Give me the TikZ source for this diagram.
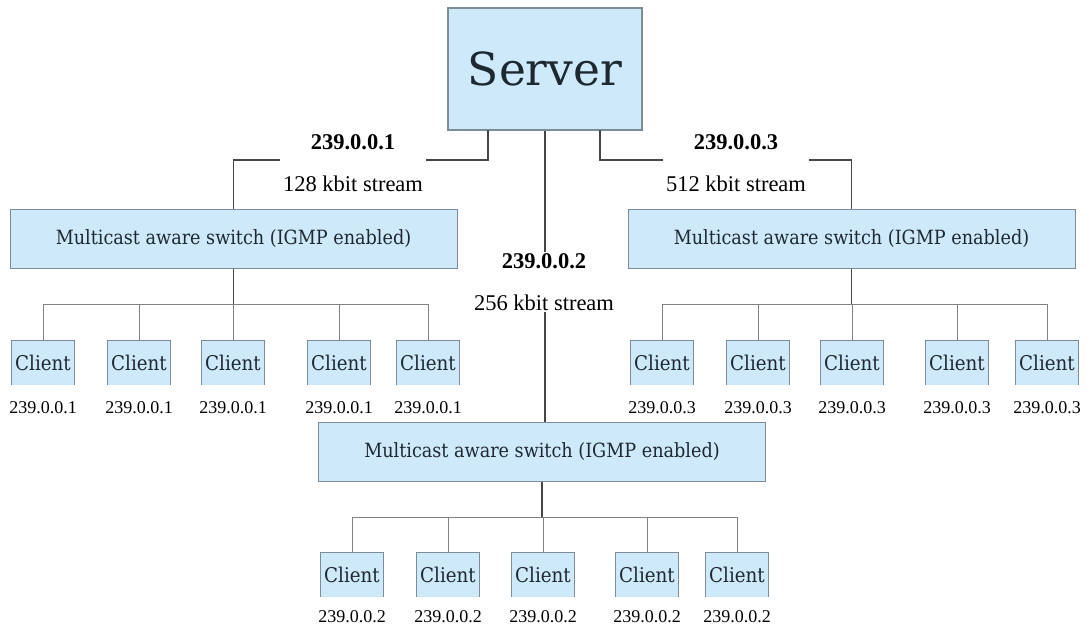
\documentclass[tikz,border=0pt]{standalone}
\usepackage{fontspec}
\setmainfont{Liberation Serif}
\newfontfamily\boxfont{DejaVu Serif Condensed}
\newfontfamily\serverfont{DejaVu Serif}
\definecolor{boxfill}{RGB}{205,233,250}
\definecolor{boxedge}{RGB}{125,140,150}
\definecolor{boxtext}{RGB}{30,40,48}
\definecolor{wire}{RGB}{70,70,70}
\definecolor{branch}{RGB}{130,130,130}
\begin{document}
\begin{tikzpicture}[x=1pt,y=-1pt,
  serverbox/.style={draw=boxedge, fill=boxfill, line width=1.2pt,
    minimum width=194pt, minimum height=122pt, inner sep=0pt,
    font=\serverfont\fontsize{45.5}{48}\selectfont, text=boxtext},
  switchbox/.style={draw=boxedge, fill=boxfill, line width=1pt,
    minimum width=447pt, minimum height=59pt, inner sep=0pt,
    font=\boxfont\fontsize{19.6}{21}\selectfont, text=boxtext},
  clientbox/.style={fill=boxfill, minimum width=62pt, minimum height=44pt,
    inner sep=0pt, font=\boxfont\fontsize{20.3}{21}\selectfont, text=boxtext},
  clientedge/.style={draw=boxedge, line width=1pt},
  addr/.style={font=\fontsize{18}{20}\selectfont, inner sep=1pt},
  streamlabel/.style={fill=white, align=center, inner xsep=3pt, inner ysep=1pt,
    font=\fontsize{22.5}{42}\selectfont},
  trunk/.style={draw=wire, line width=1.1pt},
  twig/.style={draw=branch, line width=1pt}]
\useasboundingbox (0,0) rectangle (1090,627);

% server and the three switches
\node[serverbox] (server) at (545,69) {Server};
\node[switchbox] (lsw) at (233.5,238.5) {Multicast aware switch (IGMP enabled)};
\node[switchbox] (rsw) at (851.5,238.5) {Multicast aware switch (IGMP enabled)};
\node[switchbox] (bsw) at (542,452) {Multicast aware switch (IGMP enabled)};

% links from the server to the switches
\coordinate (sl) at (488,130);
\coordinate (sr) at (600,130);
\draw[trunk] (sl) -- ++(0,30) -| (lsw.north);
\draw[trunk] (sr) -- ++(0,30) -| (rsw.north);
\draw[trunk] (server.south) -- (server.south |- bsw.north);

% group addresses and stream rates
\node[streamlabel] (lab1) at (353,163) {\textbf{239.0.0.1}\\128 kbit stream};
\node[streamlabel] (lab3) at (736,163) {\textbf{239.0.0.3}\\512 kbit stream};
\node[streamlabel] (lab2) at (544,282) {\textbf{239.0.0.2}\\256 kbit stream};

% client groups: switch, bar height, client row, address
\foreach \sw/\bary/\cy/\ay/\ip/\tag/\xs in {
  lsw/304/363/408/239.0.0.1/l/{43,139,233,339,428},
  rsw/304/363/408/239.0.0.3/r/{662,758,852,957,1047},
  bsw/517/575/617/239.0.0.2/b/{352,448,543,647,737}}{
  \coordinate (\tag bar) at (\sw.south |- 0,\bary);
  \draw[trunk] (\sw.south) -- (\tag bar);
  \foreach \x [count=\i] in \xs {
    \node[clientbox] (\tag c\i) at (\x,\cy) {Client};
    \draw[clientedge] (\tag c\i.south west) -- (\tag c\i.north west)
      -- (\tag c\i.north east) -- (\tag c\i.south east);
    \node[addr] (\tag a\i) at (\x,\ay) {\ip};
    \draw[twig] (\tag bar) -| (\tag c\i.north);
  }
}
\end{tikzpicture}
\end{document}
